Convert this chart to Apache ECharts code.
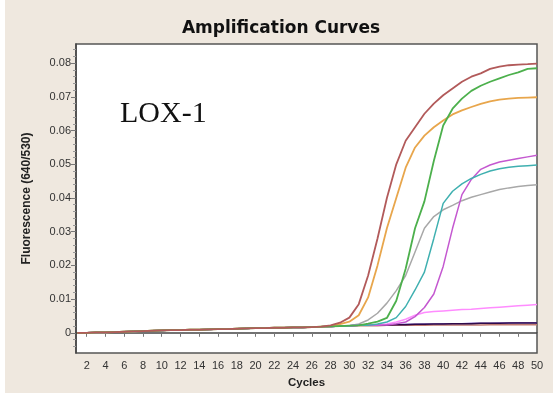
<!DOCTYPE html>
<html>
<head>
<meta charset="utf-8">
<script src="https://cdn.jsdelivr.net/npm/echarts@6/dist/echarts.min.js"></script>
<style>
html,body{margin:0;padding:0;background:#ffffff;}
#c{width:553px;height:398px;}
</style>
</head>
<body>
<div id="c"></div>
<script>
// ---- data ----
const xTicks = [2,4,6,8,10,12,14,16,18,20,22,24,26,28,30,32,34,36,38,40,42,44,46,48,50];
const yTicks = [0,0.01,0.02,0.03,0.04,0.05,0.06,0.07,0.08];
const yMinorTicks = [0.002,0.004,0.006,0.008,0.012,0.014,0.016,0.018,0.022,0.024,0.026,0.028,0.032,0.034,0.036,0.038,0.042,0.044,0.046,0.048,0.052,0.054,0.056,0.058,0.062,0.064,0.066,0.068,0.072,0.074,0.076,0.078,0.082,0.084,-0.002,-0.004];
// shared baseline, cycles 1..35
const baseline = [0,0,0.0001,0.0001,0.0002,0.0003,0.0004,0.0005,0.0006,0.0007,
                  0.0008,0.0008,0.0009,0.0009,0.001,0.0011,0.0011,0.0012,0.0013,0.0014,
                  0.0014,0.0015,0.0015,0.0016,0.0016,0.0017,0.0018,0.0019,0.002,0.0021,
                  0.0022,0.0022,0.0023,0.0023,0.0024];
// each curve: first cycle of its own values, then values up to cycle 50
const darkRedStart = 28;
const darkRed = [0.0022,0.003,0.0045,0.0085,0.017,0.028,0.040,0.050,0.057,0.061,0.065,0.068,0.0705,0.0725,0.0745,0.076,0.077,0.0783,0.079,0.0794,0.0796,0.0797,0.0799];
const orangeStart = 29;
const orange = [0.0026,0.0033,0.0052,0.0105,0.020,0.031,0.040,0.049,0.055,0.0585,0.061,0.063,0.0648,0.066,0.067,0.0679,0.0687,0.0692,0.0695,0.0697,0.0698,0.0699];
const greenStart = 32;
const green = [0.0027,0.0033,0.0044,0.0095,0.019,0.031,0.039,0.051,0.0615,0.0665,0.0695,0.0718,0.0733,0.0745,0.0755,0.0765,0.0773,0.0783,0.0785];
const tealStart = 33;
const teal = [0.0026,0.0032,0.0045,0.0078,0.0127,0.018,0.028,0.0384,0.042,0.0442,0.0458,0.047,0.048,0.0487,0.0491,0.0494,0.0496,0.0498];
const magentaStart = 35;
const magenta = [0.0027,0.0032,0.0048,0.0075,0.0115,0.0197,0.031,0.041,0.0455,0.0485,0.0498,0.0507,0.0512,0.0517,0.0522,0.0527];
const grayStart = 31;
const gray = [0.0026,0.0038,0.0058,0.0088,0.0125,0.017,0.024,0.031,0.0345,0.0365,0.0378,0.0392,0.0402,0.041,0.0418,0.0425,0.043,0.0434,0.0437,0.0439];
const pinkStart = 34;
const pink = [0.0026,0.0032,0.004,0.0052,0.006,0.0063,0.0065,0.0067,0.0069,0.007,0.0072,0.0074,0.0076,0.0078,0.008,0.0082,0.0084];
const navyStart = 31;
const navy = [0.0022,0.0022,0.0023,0.0023,0.0024,0.0024,0.0025,0.0025,0.0026,0.0026,0.0027,0.0027,0.0027,0.0028,0.0028,0.0028,0.0029,0.0029,0.0029,0.0029];
const brownFlatStart = 31;
const brownFlat = [0.0021,0.0021,0.0021,0.0022,0.0022,0.0022,0.0022,0.0022,0.0023,0.0023,0.0023,0.0023,0.0023,0.0023,0.0024,0.0024,0.0024,0.0024,0.0024,0.0024];
const violetFlatStart = 31;
const violetFlat = [0.0022,0.0022,0.0023,0.0024,0.0024,0.0025,0.0025,0.0026,0.0026,0.0027,0.0027,0.0027,0.0028,0.0028,0.0028,0.0029,0.0029,0.003,0.003,0.003];

function build(start, tail){
  const vals = baseline.slice(0, start-1).concat(tail);
  return vals.map((v,i)=>[i+1, v]);
}

const defs = [
  {name:'violetFlat', s:violetFlatStart, d:violetFlat, c:'#8a6fd0', w:1.5},
  {name:'brownFlat', s:brownFlatStart, d:brownFlat, c:'#c07a70', w:1.5},
  {name:'navy', s:navyStart, d:navy, c:'#2e0a4a', w:1.5},
  {name:'pink', s:pinkStart, d:pink, c:'#ff8cff', w:1.5},
  {name:'gray', s:grayStart, d:gray, c:'#a8a8a8', w:1.5},
  {name:'magenta', s:magentaStart, d:magenta, c:'#c458d0', w:1.5},
  {name:'teal', s:tealStart, d:teal, c:'#3fb0b0', w:1.5},
  {name:'orange', s:orangeStart, d:orange, c:'#e8a64c', w:1.8},
  {name:'green', s:greenStart, d:green, c:'#4cb04c', w:1.8},
  {name:'darkRed', s:darkRedStart, d:darkRed, c:'#b25a5a', w:1.8}
];

const chart = echarts.init(document.getElementById('c'), null, {renderer:'canvas'});
const fmt = v => Math.abs(v) < 1e-9 ? '0' : v.toFixed(2);

chart.setOption({
  backgroundColor: '#ffffff',
  animation: false,
  graphic: [
    {type:'rect', z:-10, shape:{x:5, y:0, width:548, height:393}, style:{fill:'#efe8df'}},
    {type:'text', z:100, left:120, top:99, style:{text:'LOX-1', font:'30px "Liberation Serif"', fill:'#111'}}
  ],
  title: {
    text: 'Amplification Curves',
    left: 276, top: 15, textAlign: 'center',
    textStyle: {fontFamily:'DejaVu Sans', fontWeight:'bold', fontSize:17, color:'#111'}
  },
  grid: {left:76, top:44, right:16, bottom:45, show:true, backgroundColor:'#ffffff', borderColor:'#555', borderWidth:1.5},
  xAxis: {
    type:'value', min:0.86, max:50,
    name:'Cycles', nameLocation:'middle', nameGap:24,
    nameTextStyle:{fontFamily:'Liberation Sans', fontWeight:'bold', fontSize:11.5, color:'#222'},
    axisLine:{show:true, lineStyle:{color:'#444', width:1.5}},
    axisTick:{show:true, customValues:xTicks, length:4, lineStyle:{color:'#777'}},
    axisLabel:{customValues:xTicks, fontFamily:'Liberation Sans', fontSize:11, color:'#333', margin:7},
    splitLine:{show:false}
  },
  yAxis: [{
    type:'value', min:-0.006, max:0.0857,
    name:'Fluorescence (640/530)', nameLocation:'middle', nameGap:43,
    nameTextStyle:{fontFamily:'Liberation Sans', fontWeight:'bold', fontSize:12, color:'#222'},
    axisLine:{show:true, lineStyle:{color:'#444', width:1.5}},
    axisTick:{show:true, customValues:yTicks, length:5, lineStyle:{color:'#777'}},
    axisLabel:{customValues:yTicks, formatter:fmt, fontFamily:'Liberation Sans', fontSize:11, color:'#333', margin:5},
    splitLine:{show:false}
  },{
    type:'value', min:-0.006, max:0.0857, position:'left',
    axisLine:{show:false},
    axisTick:{show:true, customValues:yMinorTicks, length:3, lineStyle:{color:'#999'}},
    axisLabel:{show:false},
    splitLine:{show:false}
  }],
  series: defs.map(d => ({
    name:d.name, type:'line', data:build(d.s, d.d), showSymbol:false, symbol:'none',
    lineStyle:{color:d.c, width:d.w}, itemStyle:{color:d.c}, z:2
  }))
});
</script>
</body>
</html>
